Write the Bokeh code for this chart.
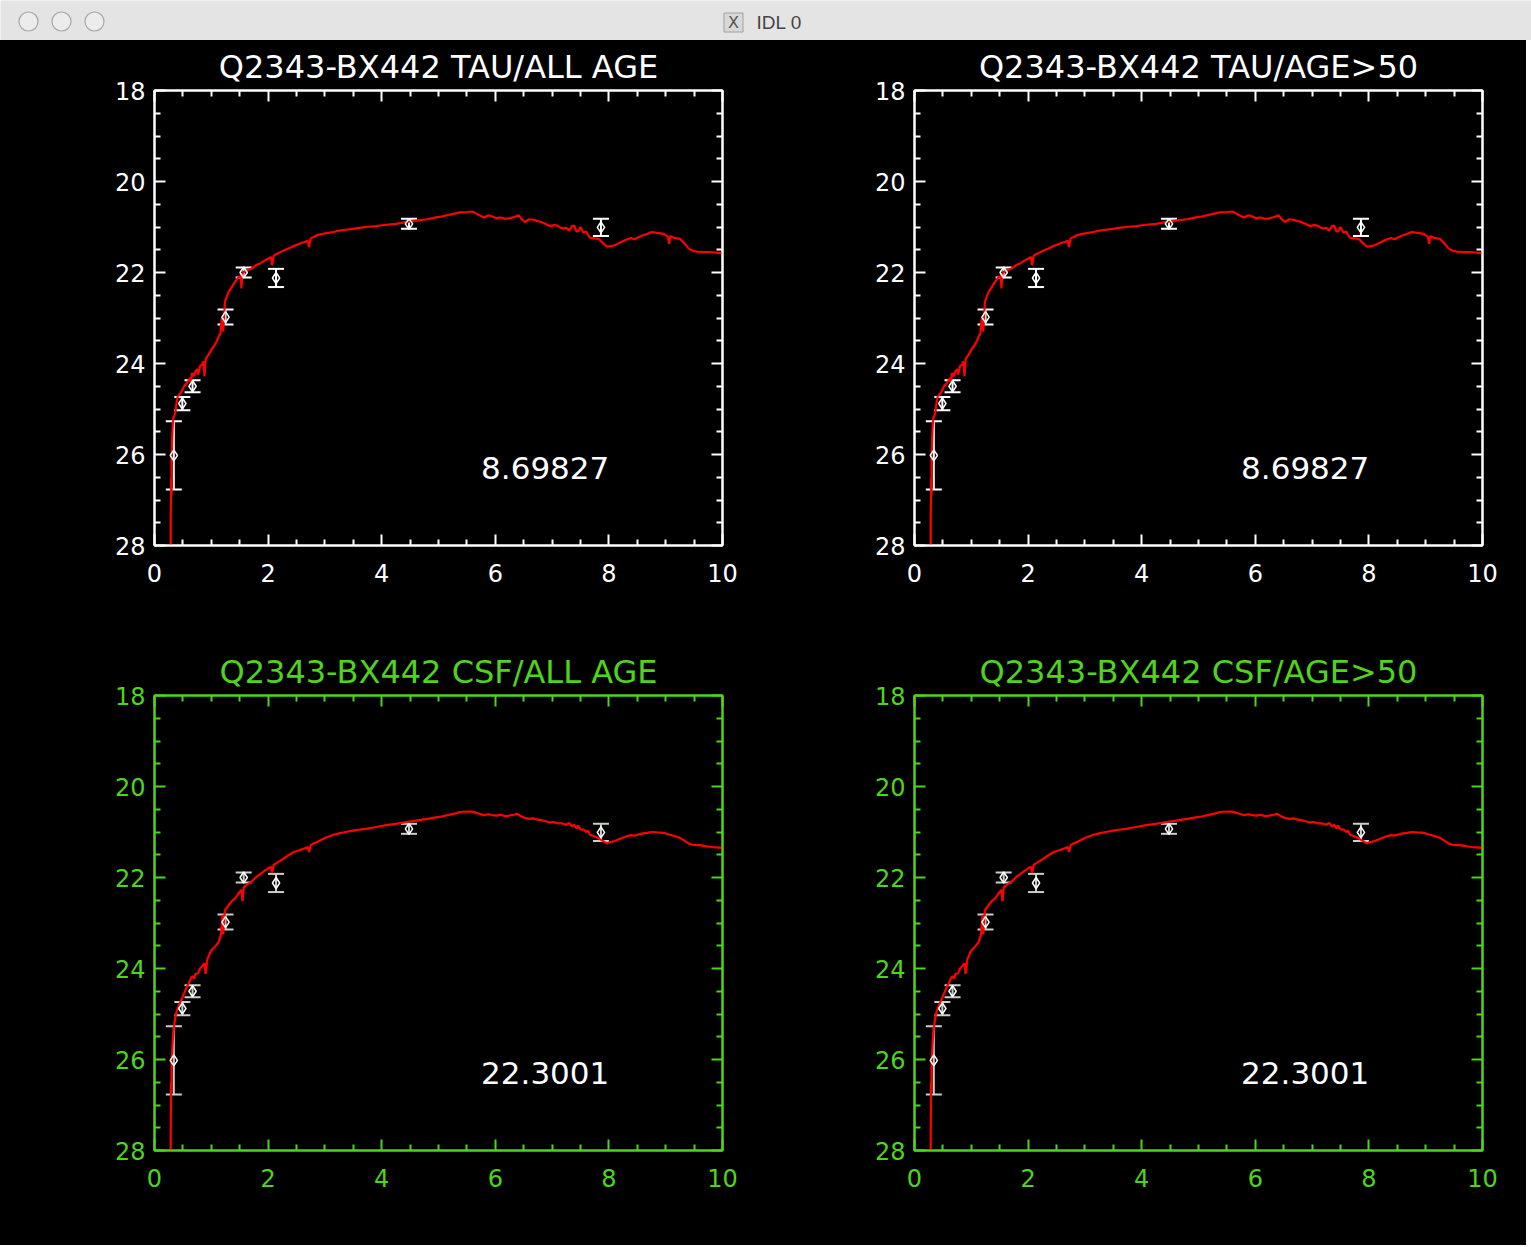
from bokeh.plotting import figure
from bokeh.models import Range1d, FixedTicker, LinearAxis, Whisker, TeeHead, ColumnDataSource, Label
from bokeh.layouts import column, row
from bokeh.embed import file_html
from bokeh.resources import INLINE
from bokeh.core.properties import value

# ---------------- data ----------------
titles = ["Q2343-BX442 TAU/ALL AGE", "Q2343-BX442 TAU/AGE>50",
          "Q2343-BX442 CSF/ALL AGE", "Q2343-BX442 CSF/AGE>50"]
notes = ["8.69827", "8.69827", "22.3001", "22.3001"]

x_ticks = [0, 2, 4, 6, 8, 10]
y_ticks = [18, 20, 22, 24, 26, 28]

# photometry (observed wavelength, AB mag, error)
phot_x = [0.34, 0.49, 0.67, 1.25, 1.57, 2.14, 4.48, 7.86]
phot_mag = [26.02, 24.88, 24.50, 22.98, 22.00, 22.12, 20.93, 21.01]
phot_err = [0.75, 0.145, 0.13, 0.165, 0.11, 0.20, 0.11, 0.19]

# best-fit model spectrum, tau model
tau_x = [0.285, 0.285, 0.29, 0.295, 0.30, 0.30, 0.31, 0.32, 0.33, 0.35,
         0.37, 0.39, 0.41, 0.44, 0.48, 0.50, 0.53, 0.56, 0.59, 0.62,
         0.64, 0.66, 0.69, 0.72, 0.75, 0.77, 0.80, 0.84, 0.86, 0.88,
         0.90, 0.95, 1.00, 1.06, 1.10, 1.13, 1.16, 1.17, 1.19, 1.21,
         1.24, 1.28, 1.31, 1.36, 1.42, 1.47, 1.52, 1.53, 1.55, 1.58,
         1.63, 1.71, 1.80, 1.86, 1.92, 2.00, 2.05, 2.07, 2.10, 2.14,
         2.25, 2.36, 2.45, 2.55, 2.64, 2.70, 2.72, 2.75, 2.80, 2.86,
         3.00, 3.15, 3.25, 3.36, 3.50, 3.60, 3.72, 3.90, 4.08, 4.25,
         4.44, 4.60, 4.80, 4.95, 5.05, 5.16, 5.30, 5.37, 5.52, 5.60,
         5.66, 5.72, 5.80, 5.88, 5.95, 6.02, 6.09, 6.17, 6.24, 6.33,
         6.41, 6.46, 6.52, 6.60, 6.67, 6.75, 6.81, 6.90, 6.96, 7.03,
         7.10, 7.17, 7.25, 7.30, 7.35, 7.39, 7.43, 7.46, 7.50, 7.55,
         7.60, 7.63, 7.67, 7.75, 7.82, 7.90, 7.96, 8.03, 8.10, 8.20,
         8.30, 8.39, 8.45, 8.53, 8.60, 8.68, 8.75, 8.85, 8.97, 9.04,
         9.06, 9.08, 9.15, 9.25, 9.33, 9.40, 9.47, 9.54, 9.65, 9.76,
         9.88, 10.0]
tau_mag = [28.0, 27.4, 27.0, 26.5, 26.9, 26.1, 25.7, 25.4, 25.2, 25.15,
           25.05, 24.85, 24.72, 24.68, 24.61, 24.55, 24.48, 24.45, 24.39, 24.32,
           24.40, 24.21, 24.28, 24.18, 24.12, 24.24, 24.06, 24.02, 23.95, 24.28,
           23.90, 23.81, 23.70, 23.59, 23.50, 23.40, 23.35, 23.15, 23.00, 23.30,
           22.64, 22.50, 22.42, 22.32, 22.20, 22.12, 22.06, 22.35, 22.02, 21.98,
           21.95, 21.91, 21.83, 21.80, 21.75, 21.70, 21.66, 21.84, 21.63, 21.60,
           21.53, 21.47, 21.42, 21.37, 21.33, 21.30, 21.44, 21.25, 21.22, 21.18,
           21.14, 21.11, 21.08, 21.06, 21.04, 21.02, 21.00, 20.98, 20.95, 20.93,
           20.89, 20.86, 20.83, 20.79, 20.77, 20.74, 20.70, 20.68, 20.67, 20.66,
           20.70, 20.74, 20.79, 20.74, 20.77, 20.81, 20.79, 20.82, 20.81, 20.78,
           20.74, 20.82, 20.89, 20.83, 20.84, 20.87, 20.89, 20.94, 20.98, 20.96,
           20.97, 21.03, 21.02, 21.08, 20.98, 20.97, 21.10, 21.09, 21.00, 21.12,
           21.10, 21.17, 21.24, 21.25, 21.26, 21.36, 21.43, 21.42, 21.40, 21.34,
           21.28, 21.24, 21.27, 21.22, 21.18, 21.15, 21.11, 21.13, 21.15, 21.22,
           21.37, 21.20, 21.24, 21.26, 21.36, 21.47, 21.52, 21.54, 21.55, 21.55,
           21.56, 21.58]

# best-fit model spectrum, constant star formation
csf_x = [0.285, 0.285, 0.29, 0.29, 0.30, 0.30, 0.31, 0.32, 0.34, 0.37,
         0.39, 0.415, 0.45, 0.49, 0.53, 0.56, 0.60, 0.63, 0.66, 0.70,
         0.72, 0.77, 0.80, 0.84, 0.88, 0.90, 0.93, 0.99, 1.025, 1.08,
         1.13, 1.17, 1.19, 1.20, 1.21, 1.24, 1.31, 1.36, 1.42, 1.48,
         1.53, 1.55, 1.57, 1.63, 1.71, 1.80, 1.92, 2.00, 2.05, 2.07,
         2.10, 2.14, 2.25, 2.36, 2.45, 2.55, 2.64, 2.70, 2.72, 2.75,
         2.80, 2.86, 3.00, 3.15, 3.25, 3.36, 3.50, 3.60, 3.72, 3.90,
         4.08, 4.25, 4.44, 4.60, 4.80, 4.95, 5.05, 5.16, 5.30, 5.37,
         5.52, 5.60, 5.66, 5.72, 5.80, 5.88, 5.95, 6.02, 6.09, 6.17,
         6.24, 6.33, 6.38, 6.46, 6.52, 6.60, 6.67, 6.75, 6.81, 6.90,
         6.96, 7.03, 7.10, 7.17, 7.25, 7.30, 7.35, 7.39, 7.43, 7.46,
         7.50, 7.55, 7.60, 7.63, 7.67, 7.75, 7.82, 7.90, 7.96, 8.03,
         8.10, 8.20, 8.30, 8.39, 8.45, 8.53, 8.60, 8.68, 8.75, 8.85,
         8.97, 9.04, 9.11, 9.18, 9.25, 9.33, 9.40, 9.47, 9.54, 9.61,
         9.70, 9.80, 9.90, 10.0]
csf_mag = [28.0, 27.6, 27.0, 26.5, 26.7, 26.0, 25.88, 25.6, 25.30, 25.05,
           24.95, 24.86, 24.75, 24.64, 24.52, 24.43, 24.33, 24.25, 24.17, 24.22,
           24.12, 24.10, 24.00, 23.95, 23.88, 24.12, 23.80, 23.62, 23.57, 23.50,
           23.42, 23.26, 22.92, 22.82, 23.25, 22.72, 22.60, 22.52, 22.46, 22.35,
           22.27, 22.52, 22.22, 22.15, 22.09, 21.98, 21.87, 21.80, 21.76, 21.90,
           21.72, 21.69, 21.60, 21.51, 21.44, 21.40, 21.36, 21.33, 21.44, 21.29,
           21.25, 21.22, 21.13, 21.06, 21.03, 21.00, 20.97, 20.95, 20.93, 20.89,
           20.85, 20.82, 20.78, 20.75, 20.71, 20.68, 20.66, 20.63, 20.59, 20.56,
           20.55, 20.55, 20.58, 20.60, 20.63, 20.61, 20.63, 20.64, 20.62, 20.65,
           20.64, 20.62, 20.60, 20.66, 20.69, 20.71, 20.70, 20.73, 20.74, 20.77,
           20.79, 20.78, 20.81, 20.81, 20.84, 20.80, 20.88, 20.84, 20.92, 20.86,
           20.95, 20.94, 21.00, 20.97, 21.06, 21.10, 21.14, 21.20, 21.25, 21.22,
           21.20, 21.15, 21.10, 21.07, 21.08, 21.05, 21.03, 21.02, 21.00, 21.01,
           21.02, 21.05, 21.07, 21.10, 21.13, 21.19, 21.25, 21.28, 21.29, 21.29,
           21.31, 21.33, 21.34, 21.35]

assert len(tau_x) == len(tau_mag)
assert len(csf_x) == len(csf_mag)

# ---------------- styling ----------------
FONT = "DejaVu Sans"
WHITE = "#ffffff"
GREEN = "#4fd41c"
RED = "#ff0000"


def style_axis(ax, ticks, color, show_labels):
    minor = []
    for a, b in zip(ticks[:-1], ticks[1:]):
        step = (b - a) / 4.0
        minor += [a + step * k for k in (1, 2, 3)]
    ax.ticker = FixedTicker(ticks=ticks, minor_ticks=minor)
    ax.axis_line_color = color
    ax.axis_line_width = 2
    ax.major_tick_line_color = color
    ax.major_tick_line_width = 2
    ax.minor_tick_line_color = color
    ax.minor_tick_line_width = 2
    ax.major_tick_in = 11
    ax.major_tick_out = 0
    ax.minor_tick_in = 6
    ax.minor_tick_out = 0
    ax.major_label_text_font = FONT
    ax.major_label_text_font_size = "24px"
    ax.major_label_text_color = color if show_labels else None


def panel(title, mx, my, note, axis_color, err_color, width, height, left, right):
    p = figure(width=width, height=height, output_backend="svg", toolbar_location=None,
               x_range=Range1d(0, 10), y_range=Range1d(28, 18),
               min_border_left=left, min_border_right=right,
               min_border_top=48, min_border_bottom=height - 48 - 457,
               background_fill_color="black", border_fill_color="black",
               outline_line_color=axis_color, outline_line_width=2,
               styles={"background-color": "black"})
    p.grid.visible = False
    p.title.text = title
    p.title.align = "center"
    p.title.text_color = axis_color
    p.title.text_font = FONT
    p.title.text_font_size = "32px"
    p.title.text_font_style = "normal"
    p.title.standoff = 10

    style_axis(p.xaxis[0], x_ticks, axis_color, True)
    style_axis(p.yaxis[0], y_ticks, axis_color, True)
    p.xaxis[0].major_label_standoff = 18
    p.yaxis[0].major_label_standoff = 9
    top = LinearAxis()
    style_axis(top, x_ticks, axis_color, False)
    p.add_layout(top, "above")
    rgt = LinearAxis()
    style_axis(rgt, y_ticks, axis_color, False)
    p.add_layout(rgt, "right")

    p.line(mx, my, line_color=RED, line_width=2.2)

    src = ColumnDataSource(dict(
        x=phot_x, y=phot_mag,
        upper=[m + e for m, e in zip(phot_mag, phot_err)],
        lower=[m - e for m, e in zip(phot_mag, phot_err)]))
    wh = Whisker(source=src, base="x", upper="upper", lower="lower", dimension="height",
                 line_color=err_color, line_width=2,
                 upper_head=TeeHead(size=16, line_color=err_color, line_width=2),
                 lower_head=TeeHead(size=16, line_color=err_color, line_width=2))
    p.add_layout(wh)
    p.scatter("x", "y", source=src, marker="diamond", size=11, fill_color=None,
              line_color=WHITE, line_width=1.5)

    p.add_layout(Label(x=5.75, y=26.3, text=note, text_color=WHITE, text_font=FONT,
                       text_font_size="31px", text_baseline="middle", text_align="left"))
    return p


p1 = panel(titles[0], tau_x, tau_mag, notes[0], WHITE, WHITE, 765, 605, 154, 43)
p2 = panel(titles[1], tau_x, tau_mag, notes[1], WHITE, WHITE, 761, 605, 149, 44)
p3 = panel(titles[2], csf_x, csf_mag, notes[2], GREEN, "#c8d0c8", 765, 600, 154, 43)
p4 = panel(titles[3], csf_x, csf_mag, notes[3], GREEN, "#c8d0c8", 761, 600, 149, 44)

# ---------------- window title bar ----------------
bar = figure(width=1531, height=40, output_backend="svg", toolbar_location=None,
             x_range=Range1d(0, 1531), y_range=Range1d(40, 0),
             min_border=0, background_fill_color="#e4e4e4", border_fill_color="#e4e4e4",
             outline_line_color=None)
bar.axis.visible = False
bar.grid.visible = False
bar.scatter([28, 61, 94], [21, 21, 21], marker="circle", size=19,
            fill_color="#ececec", line_color="#a8a8a8", line_width=1.2)
bar.scatter([733], [22], marker="square", size=19, fill_color="#d8d8d8",
            line_color="#a0a0a0", line_width=1)
bar.text([733], [22], text=["X"], text_font=value(FONT), text_font_size="16px",
         text_color="#555555", text_align="center", text_baseline="middle")
bar.text([756], [22], text=["IDL 0"], text_font=value("Liberation Sans"), text_font_size="19px",
         text_color="#444444", text_align="left", text_baseline="middle")

panels = row(column(p1, p3, styles={"background-color": "black"}),
             column(p2, p4, styles={"background-color": "black"}),
             styles={"background-color": "black"})
layout = column(bar, panels)

open("out.html", "w").write(file_html(layout, INLINE))
